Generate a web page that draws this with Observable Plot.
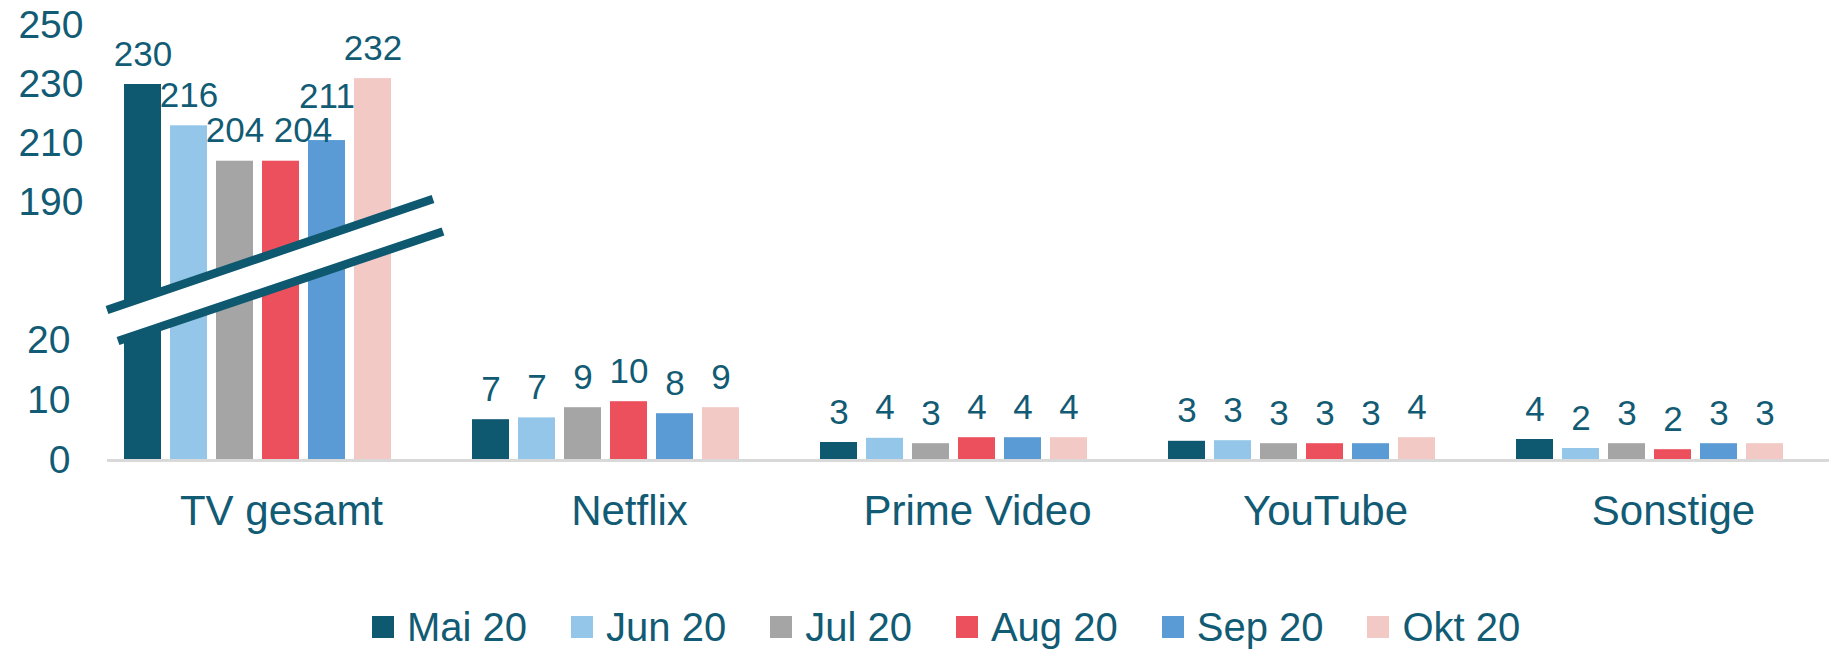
<!DOCTYPE html>
<html><head><meta charset="utf-8">
<script src="https://cdn.jsdelivr.net/npm/d3@7"></script>
<script src="https://cdn.jsdelivr.net/npm/@observablehq/plot@0.6"></script>
<style>
html,body{margin:0;padding:0;background:#fff;overflow:hidden;width:1829px;height:649px;}
#chart svg{display:block;}
.lg-swatches{margin-left:372px !important;height:44px !important;min-height:44px !important;font-family:"Liberation Sans",Arial,sans-serif !important;font-size:40px !important;color:#125b74 !important;flex-wrap:nowrap !important;align-items:center !important;}
.lg-swatch{margin-right:44px !important;}
.lg-swatch > svg{margin-right:13px !important;}
</style></head><body><div id="chart"></div><script>
const categories = ["TV gesamt", "Netflix", "Prime Video", "YouTube", "Sonstige"];
const months = ["Mai 20", "Jun 20", "Jul 20", "Aug 20", "Sep 20", "Okt 20"];
const slots = [...months, "Nov 20"]; // empty 7th slot, as in the original chart
const colors = ["#0e5870", "#93c6e8", "#a5a5a5", "#eb505c", "#5b9bd5", "#f2c9c5"];
const tvGesamt = [230, 216, 204, 204, 211, 232];
const netflix = [6.8, 7.1, 8.8, 9.8, 7.8, 8.8];
const primeVideo = [3.0, 3.7, 2.8, 3.8, 3.8, 3.8];
const youtube = [3.2, 3.3, 2.8, 2.8, 2.8, 3.8];
const sonstige = [3.5, 2.0, 2.8, 1.8, 2.8, 2.8];
const yTicksLow = [0, 10, 20];
const yTicksHigh = [190, 210, 230, 250];
const yBreak = [25, 180];

const textColor = "#125b74";
const fmt = d3.format(".0f");
const series = [tvGesamt, netflix, primeVideo, youtube, sonstige];
const data = categories.flatMap((c, i) => months.map((m, j) => ({category: c, month: m, value: series[i][j]})));

const W = 1829, H = 605, mL = 107, mR = -18, mT = 25, mB = 145;
const yBottom = H - mB;
const facetW = (W - mL - mR) / categories.length;
const yOpts = {type: "linear", domain: [0, yBreak[0], yBreak[1], 250], range: [yBottom, 310, 231.5, mT]};
const xOpts = {type: "band", domain: slots, paddingInner: 0.19, paddingOuter: 0.3, align: 0.5};

// simple label collision avoidance (labels 35px, 19px above the bar)
const LABEL_FS = 35, GAP = 19, NUDGE = 22;
const yS0 = Plot.scale({y: yOpts});
const xS0 = Plot.scale({x: {...xOpts, range: [0, facetW]}});
for (const c of categories) {
  const placed = [];
  for (const d of data.filter(d => d.category === c)) {
    const w = fmt(d.value).length * 0.556 * LABEL_FS;
    const cx = xS0.apply(d.month) + xS0.bandwidth / 2;
    const base = yS0.apply(d.value) - GAP;
    const box = (dx, dy) => ({x1: cx + dx - w / 2, x2: cx + dx + w / 2, y1: base + dy - 0.75 * LABEL_FS, y2: base + dy + 0.212 * LABEL_FS});
    const hit = b => placed.some(p => b.x1 < p.x2 && b.x2 > p.x1 && b.y1 < p.y2 && b.y2 > p.y1);
    let dx = 0, dy = 0;
    if (hit(box(0, 0))) {
      if (!hit(box(NUDGE, 0))) dx = NUDGE;
      else while (hit(box(0, dy))) dy -= 1;
    }
    placed.push(box(dx, dy));
    d.dx = dx; d.dy = dy;
  }
}
const labelGroups = d3.groups(data, d => d.dx + "," + d.dy);

const chart = Plot.plot({
  width: W, height: H,
  marginLeft: mL, marginRight: mR, marginTop: mT, marginBottom: mB,
  style: {fontFamily: '"Liberation Sans", Arial, sans-serif', color: textColor, background: "transparent", overflow: "hidden"},
  fx: {domain: categories, padding: 0},
  x: {...xOpts, axis: null},
  y: yOpts,
  color: {domain: months, range: colors},
  marks: [
    Plot.barY(data, {fx: "category", x: "month", y: "value", fill: "month"}),
    Plot.ruleY([0], {stroke: "#d9d9d9", strokeWidth: 3}),
    ...labelGroups.map(([, g]) => Plot.text(g, {fx: "category", x: "month", y: "value", text: d => fmt(d.value), dx: g[0].dx, dy: g[0].dy - GAP, lineAnchor: "bottom", fontSize: LABEL_FS, fill: textColor})),
    Plot.axisY({ticks: yTicksHigh, tickSize: 0, tickPadding: 24, fontSize: 39, label: null, fill: textColor}),
    Plot.axisY({ticks: yTicksLow, tickSize: 0, tickPadding: 37, fontSize: 39, label: null, fill: textColor}),
    Plot.axisFx({anchor: "bottom", tickSize: 0, tickPadding: 35, fontSize: 42, label: null, fill: textColor})
  ]
});

// axis break marker, positioned through the plot's scales
const ys = chart.scale("y"), fxs = chart.scale("fx");
const x0 = fxs.apply(categories[0]);
const yL = ys.apply(yBreak[0]), yH = ys.apply(yBreak[1]);
const up = [[x0, yL], [x0 + 326, yL - 111]];
const lo = [[x0 + 11, yL + 31], [x0 + 336, yH]];
const g = d3.select(chart).append("g");
g.append("polygon").attr("points", [up[0], up[1], lo[1], lo[0]].map(p => p.join(",")).join(" ")).attr("fill", "#fff");
for (const l of [up, lo]) {
  g.append("line").attr("x1", l[0][0]).attr("y1", l[0][1]).attr("x2", l[1][0]).attr("y2", l[1][1])
    .attr("stroke", "#0e5870").attr("stroke-width", 8.5);
}

const legend = chart.legend("color", {swatchSize: 22, className: "lg"});
const root = document.getElementById("chart");
root.appendChild(chart);
root.appendChild(legend);
</script></body></html>
